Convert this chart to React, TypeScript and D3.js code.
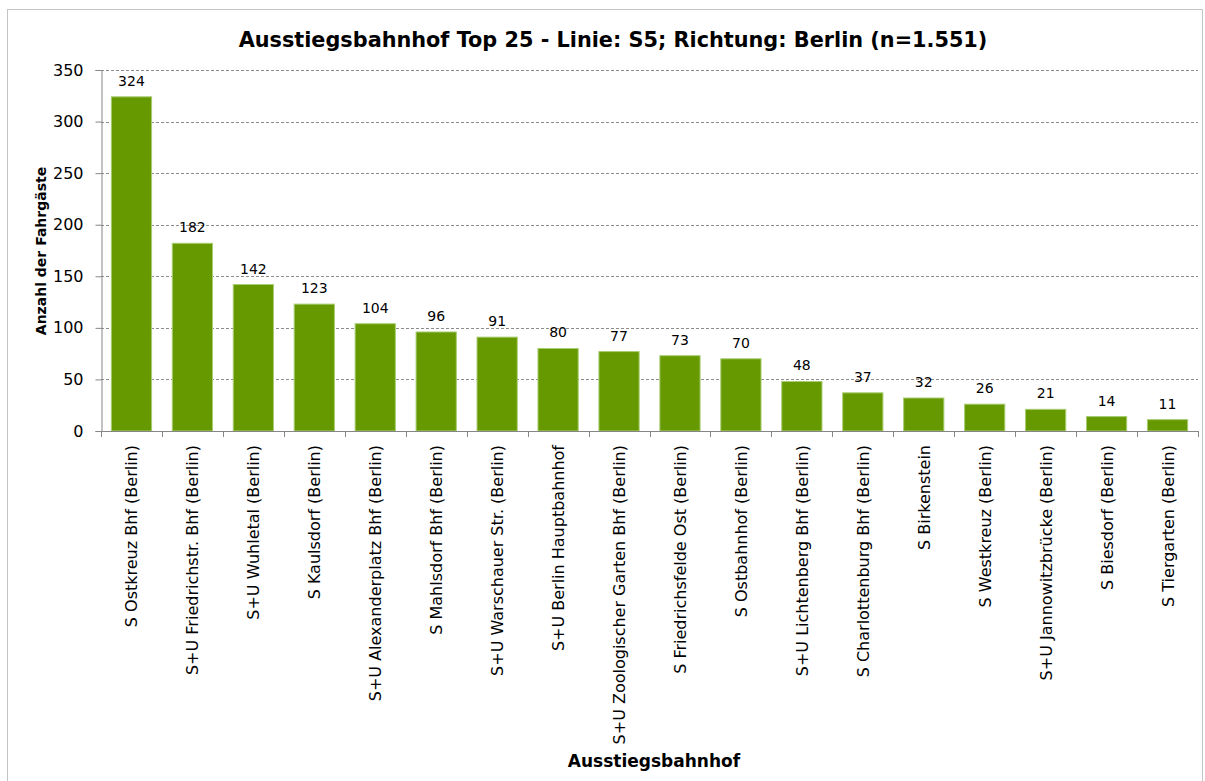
import React, { useEffect, useRef } from "react";
import * as d3 from "d3";

const stations: string[] = [
  "S Ostkreuz Bhf (Berlin)",
  "S+U Friedrichstr. Bhf (Berlin)",
  "S+U Wuhletal (Berlin)",
  "S Kaulsdorf (Berlin)",
  "S+U Alexanderplatz Bhf (Berlin)",
  "S Mahlsdorf Bhf (Berlin)",
  "S+U Warschauer Str. (Berlin)",
  "S+U Berlin Hauptbahnhof",
  "S+U Zoologischer Garten Bhf (Berlin)",
  "S Friedrichsfelde Ost (Berlin)",
  "S Ostbahnhof (Berlin)",
  "S+U Lichtenberg Bhf (Berlin)",
  "S Charlottenburg Bhf (Berlin)",
  "S Birkenstein",
  "S Westkreuz (Berlin)",
  "S+U Jannowitzbrücke (Berlin)",
  "S Biesdorf (Berlin)",
  "S Tiergarten (Berlin)",
];

const passengers: number[] = [
  324, 182, 142, 123, 104, 96, 91, 80, 77, 73, 70, 48, 37, 32, 26, 21, 14, 11,
];

const yTicks: number[] = [0, 50, 100, 150, 200, 250, 300, 350];

const title = "Ausstiegsbahnhof Top 25 - Linie: S5; Richtung: Berlin (n=1.551)";
const yTitle = "Anzahl der Fahrgäste";
const xTitle = "Ausstiegsbahnhof";

const width = 1205;
const height = 781;
const marginLeft = 101;
const marginRight = 7;
const marginTop = 70;
const plotBottom = 431;
const font = "'DejaVu Sans', Verdana, sans-serif";

export default function App() {
  const holderRef = useRef<HTMLDivElement | null>(null);

  useEffect(() => {
    const holder = holderRef.current;
    if (!holder || holder.hasChildNodes()) return;

    const x = d3
      .scaleBand()
      .domain(stations)
      .range([marginLeft, width - marginRight])
      .paddingInner(0.34)
      .paddingOuter(0.17);

    const y = d3.scaleLinear().domain([0, 350]).range([plotBottom, marginTop]);

    const svg = d3
      .select(holder)
      .append("svg")
      .attr("width", width)
      .attr("height", height)
      .style("position", "absolute")
      .style("left", "0px")
      .style("top", "0px")
      .style("font-family", font);

    svg
      .append("rect")
      .attr("x", 7.5)
      .attr("y", 9.5)
      .attr("width", width - 10)
      .attr("height", height)
      .attr("fill", "white")
      .attr("stroke", "#c4c4c4");

    // gridlines
    svg
      .append("g")
      .selectAll("line")
      .data(yTicks.filter((t) => t > 0))
      .enter()
      .append("line")
      .attr("x1", marginLeft)
      .attr("x2", width - marginRight)
      .attr("y1", (d) => Math.round(y(d)) + 0.5)
      .attr("y2", (d) => Math.round(y(d)) + 0.5)
      .attr("stroke", "#8c8c8c")
      .attr("stroke-dasharray", "3,2");

    // y axis
    const yAxis = svg
      .append("g")
      .attr("transform", `translate(${marginLeft + 0.5},0)`)
      .call(d3.axisLeft(y).tickValues(yTicks).tickSize(6).tickPadding(12));
    yAxis.select(".domain").attr("stroke", "#868686");
    yAxis.selectAll(".tick line").attr("stroke", "#868686");
    yAxis
      .selectAll(".tick text")
      .attr("font-size", 16)
      .attr("font-family", font)
      .attr("fill", "#000");

    // bars
    svg
      .append("g")
      .selectAll("rect")
      .data(passengers)
      .enter()
      .append("rect")
      .attr("x", (d, i) => x(stations[i]) as number)
      .attr("y", (d) => y(d))
      .attr("width", x.bandwidth())
      .attr("height", (d) => y(0) - y(d))
      .attr("fill", "#669900")
      .attr("stroke", "#a8cc70")
      .attr("stroke-width", 1);

    // value labels
    svg
      .append("g")
      .selectAll("text")
      .data(passengers)
      .enter()
      .append("text")
      .attr("x", (d, i) => (x(stations[i]) as number) + x.bandwidth() / 2)
      .attr("y", (d) => y(d) - 11)
      .attr("text-anchor", "middle")
      .attr("font-size", 14)
      .text((d) => d);

    // x axis line and ticks between categories
    const step = x.step();
    const xg = svg.append("g");
    xg.append("line")
      .attr("x1", marginLeft)
      .attr("x2", width - marginRight)
      .attr("y1", plotBottom + 0.5)
      .attr("y2", plotBottom + 0.5)
      .attr("stroke", "#868686");
    xg.selectAll("line.tick")
      .data(d3.range(stations.length + 1))
      .enter()
      .append("line")
      .attr("class", "tick")
      .attr("x1", (i) => Math.round(marginLeft + i * step) + 0.5)
      .attr("x2", (i) => Math.round(marginLeft + i * step) + 0.5)
      .attr("y1", plotBottom)
      .attr("y2", plotBottom + 6)
      .attr("stroke", "#868686");

    // category labels
    svg
      .append("g")
      .selectAll("text")
      .data(stations)
      .enter()
      .append("text")
      .attr(
        "transform",
        (d) =>
          `translate(${(x(d) as number) + x.bandwidth() / 2 + 6},${plotBottom + 14}) rotate(-90)`
      )
      .attr("text-anchor", "end")
      .attr("font-size", 16)
      .text((d) => d);

    // titles
    svg
      .append("text")
      .attr("x", 613)
      .attr("y", 47)
      .attr("text-anchor", "middle")
      .attr("font-size", 20.8)
      .attr("font-weight", "bold")
      .text(title);

    svg
      .append("text")
      .attr("transform", `translate(46,251) rotate(-90)`)
      .attr("text-anchor", "middle")
      .attr("font-size", 14)
      .attr("font-weight", "bold")
      .text(yTitle);

    svg
      .append("text")
      .attr("x", 654)
      .attr("y", 767)
      .attr("text-anchor", "middle")
      .attr("font-size", 17)
      .attr("font-weight", "bold")
      .text(xTitle);
  }, []);

  return <div ref={holderRef} />;
}
